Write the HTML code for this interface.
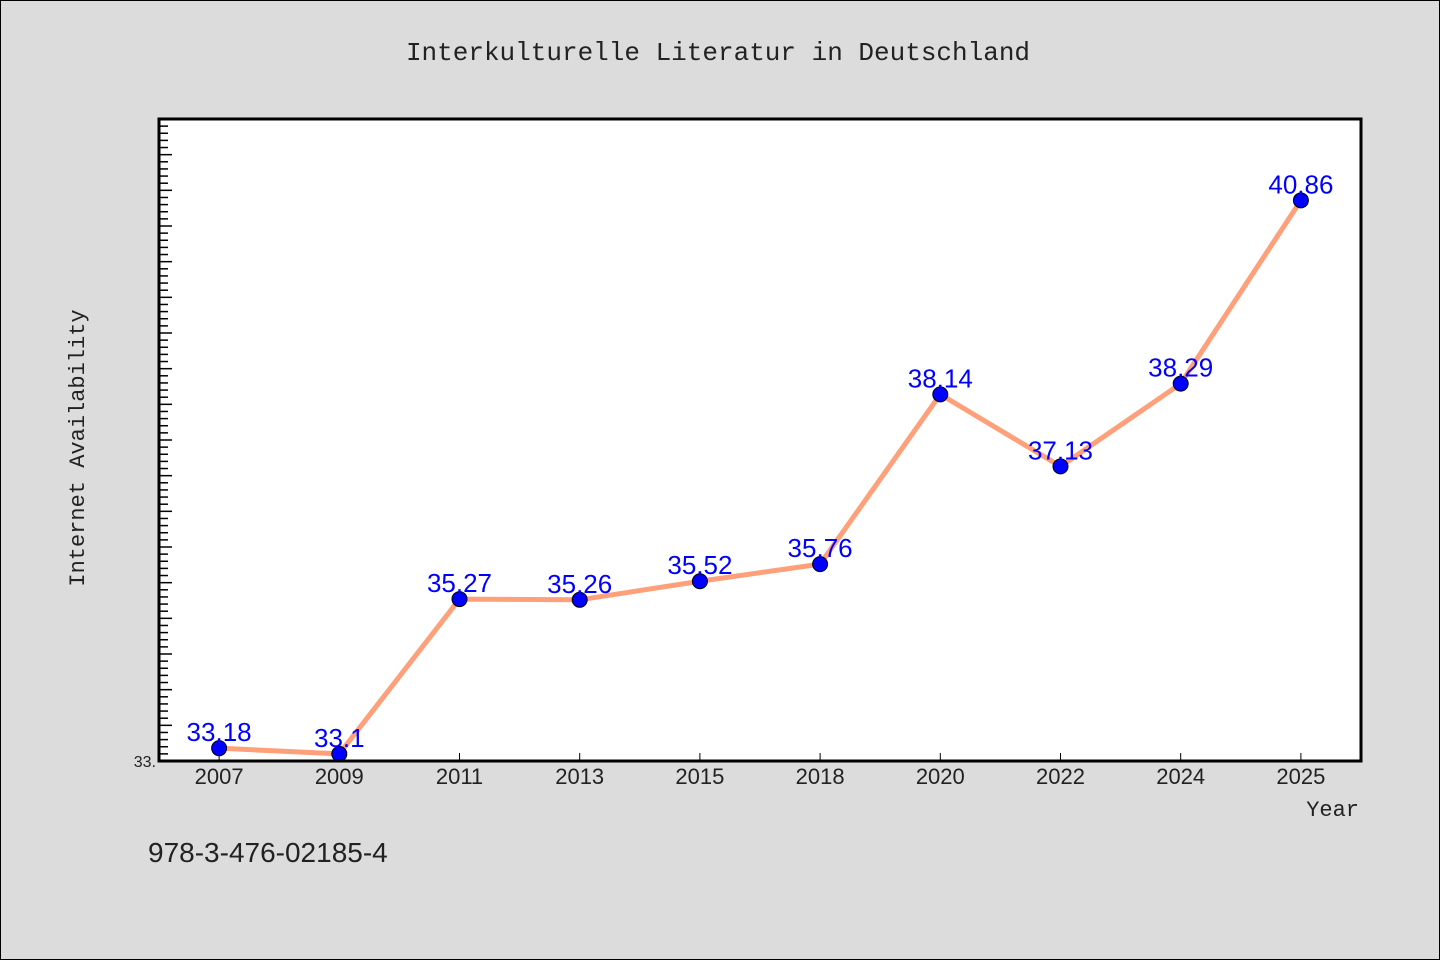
<!DOCTYPE html>
<html><head><meta charset="utf-8"><style>
body{margin:0;background:#dcdcdc;}
svg{display:block;font-family:"Liberation Mono","Noto Sans CJK SC",monospace;}
</style></head><body>
<svg id="c" width="1440" height="960">
<rect x="0.5" y="0.5" width="1439" height="959" fill="#dcdcdc" stroke="#000"/>
<text x="718" y="60" font-size="26" text-anchor="middle" fill="#222">Interkulturelle Literatur in Deutschland</text>
<rect x="159" y="119" width="1202" height="642" fill="#fff"/>
<g id="ticks"></g>
<g id="series"></g>
<rect x="159" y="119" width="1202" height="642" fill="none" stroke="#000" stroke-width="3"/>
<text x="156" y="767" font-size="16" text-anchor="end" fill="#222" font-family="Liberation Sans, sans-serif">33.</text>
<text x="1359" y="816" font-size="22" text-anchor="end" fill="#222">Year</text>
<text x="84" y="448" font-size="22" text-anchor="middle" fill="#222" transform="rotate(-90 84 448)">Internet Availability</text>
<text x="148" y="862" font-size="28" fill="#222" font-family="Liberation Sans, sans-serif">978-3-476-02185-4</text>
</svg>
<script>
const categories=["2007","2009","2011","2013","2015","2018","2020","2022","2024","2025"];
const values=[33.18,33.1,35.27,35.26,35.52,35.76,38.14,37.13,38.29,40.86];
const labels=["33.18","33.1","35.27","35.26","35.52","35.76","38.14","37.13","38.29","40.86"];
const yMin=33,yMax=42;
const L=159,R=1361,T=119,B=761;
const NS="http://www.w3.org/2000/svg";
const band=(R-L)/categories.length;
const xs=i=>L+band*(i+0.5);
const ys=v=>B-(v-yMin)/(yMax-yMin)*(B-T);
function mk(t,a,p){const e=document.createElementNS(NS,t);for(const k in a)e.setAttribute(k,a[k]);p.appendChild(e);return e;}
const tg=document.getElementById('ticks'),sg=document.getElementById('series');
for(let k=1;k<(yMax-yMin)*10;k++){
  const y=ys(yMin+k/10);const major=k%5===0;
  const t=mk('line',{x1:L,x2:L+(major?13:9),y1:y,y2:y,stroke:'#000','stroke-width':1.5},tg);
  
  
}
categories.forEach((c,i)=>{
  const t=mk('line',{x1:xs(i),x2:xs(i),y1:B-8,y2:B,stroke:'#000','stroke-width':1},tg);
  
  
  const tx=mk('text',{x:xs(i),y:B+23,'font-size':22,'text-anchor':'middle',fill:'#222','font-family':'Liberation Sans, sans-serif'},tg);
  tx.textContent=c;
  
  
});
const pl=mk('polyline',{points:values.map((v,i)=>xs(i)+','+ys(v)).join(' '),fill:'none',stroke:'#ffa07a','stroke-width':5,'stroke-linejoin':'round'},sg);


values.forEach((v,i)=>{
  const c=mk('circle',{cx:xs(i),cy:ys(v),r:7.5,fill:'#0000ff',stroke:'#000','stroke-width':1},sg);
  
  
  const t=mk('text',{x:xs(i),y:ys(v)-7,'font-size':26,'text-anchor':'middle',fill:'#0000ff','font-family':'Liberation Sans, sans-serif'},sg);
  t.textContent=labels[i];
  
  
});
</script>
</body></html>
